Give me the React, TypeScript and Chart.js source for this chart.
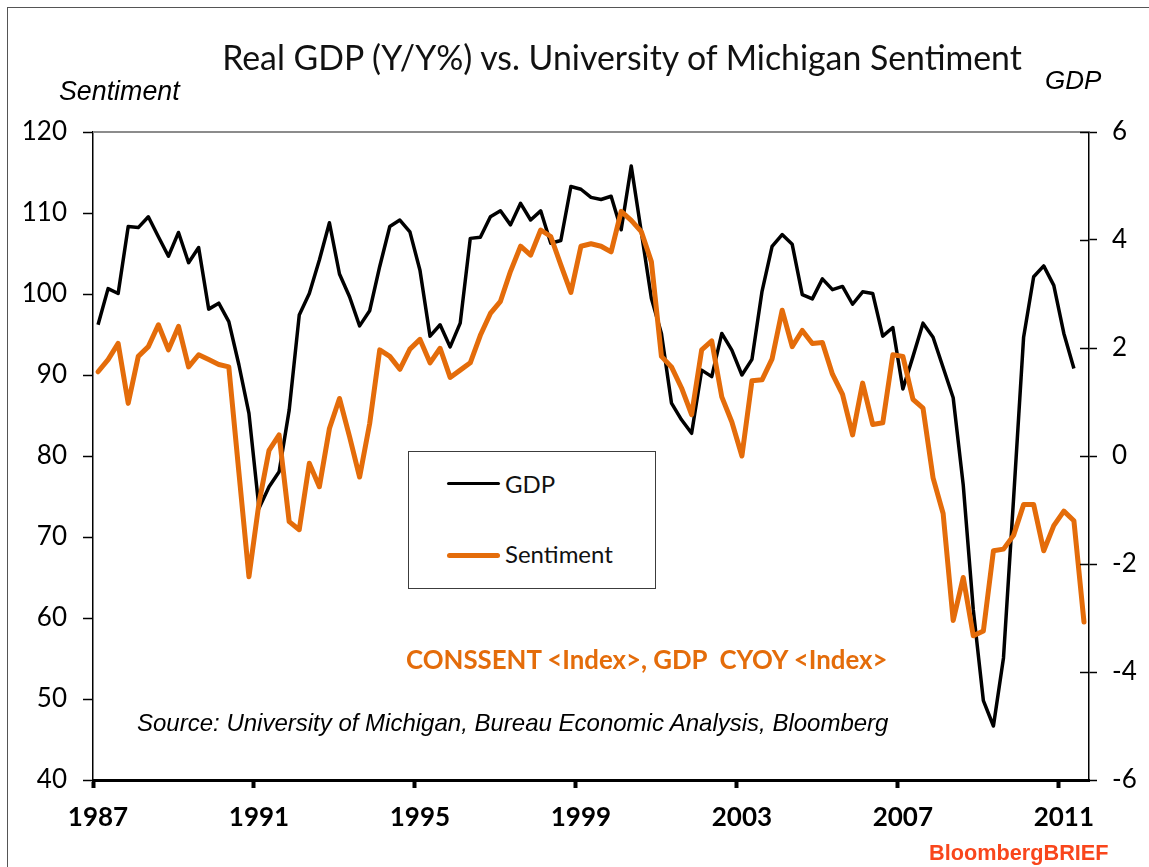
import React, { useEffect, useRef } from "react";
import { Chart, registerables } from "chart.js";

Chart.register(...registerables);

// ---- data ----
const START_YEAR = 1987;
const X_TICKS = [1987, 1991, 1995, 1999, 2003, 2007, 2011];
const LEFT_RANGE = [40, 120];
const RIGHT_RANGE = [-6, 6];

// Real GDP y/y % (quarterly, 1987Q1 - 2011Q2)
const GDP = [
  2.43, 3.10, 3.01, 4.25, 4.23, 4.43, 4.06, 3.70, 4.14, 3.58,
  3.86, 2.72, 2.83, 2.49, 1.69, 0.79, -0.97, -0.57, -0.29, 0.85,
  2.61, 3.01, 3.63, 4.32, 3.37, 2.95, 2.41, 2.69, 3.51, 4.25,
  4.37, 4.15, 3.44, 2.22, 2.43, 2.02, 2.46, 4.03, 4.05, 4.43,
  4.54, 4.28, 4.68, 4.37, 4.54, 3.94, 3.99, 4.99, 4.94, 4.79,
  4.75, 4.81, 4.19, 5.37, 4.15, 2.92, 2.27, 0.98, 0.67, 0.42,
  1.59, 1.47, 2.27, 1.96, 1.50, 1.79, 3.05, 3.88, 4.10, 3.92,
  2.99, 2.91, 3.28, 3.08, 3.14, 2.81, 3.04, 3.01, 2.22, 2.38,
  1.24, 1.84, 2.46, 2.20, 1.64, 1.08, -0.54, -2.85, -4.53, -5.0,
  -3.74, -0.8, 2.20, 3.32, 3.52, 3.16, 2.27, 1.62,
];

// University of Michigan consumer sentiment (quarterly, 1987Q1 - 2011Q3)
const SENTIMENT = [
  90.4, 91.9, 93.9, 86.5, 92.3, 93.5, 96.2, 93.1, 96.0, 91.0,
  92.5, 91.9, 91.3, 91.0, 78.0, 65.1, 74.2, 80.7, 82.6, 71.9,
  70.9, 79.1, 76.2, 83.4, 87.1, 82.4, 77.4, 84.0, 93.1, 92.3,
  90.7, 93.2, 94.4, 91.5, 93.3, 89.7, 90.6, 91.5, 94.9, 97.6,
  99.1, 102.8, 105.9, 104.8, 107.9, 107.1, 103.6, 100.2, 105.9, 106.2,
  105.9, 105.2, 110.2, 109.1, 107.7, 104.0, 92.3, 91.0, 88.4, 85.1,
  93.1, 94.2, 87.3, 84.2, 80.0, 89.3, 89.4, 92.0, 98.0, 93.5,
  95.5, 93.9, 94.0, 90.1, 87.6, 82.6, 89.0, 83.9, 84.1, 92.5,
  92.3, 87.0, 85.9, 77.3, 72.9, 59.7, 65.0, 57.8, 58.4, 68.3,
  68.5, 70.2, 74.0, 74.0, 68.3, 71.4, 73.2, 72.0, 59.5,
];

const ORANGE = "#E46C0A";
const W = 1149;
const H = 867;

// quarter index -> mid-quarter position on the year axis
const quarterX = (i: number) => START_YEAR + (i + 0.5) / 4;
const toPoints = (arr: number[]) => arr.map((v, i) => ({ x: quarterX(i), y: v }));

const framePlugin = {
  id: "frame",
  afterDraw(chart: any) {
    const { ctx, chartArea: a, scales } = chart;
    ctx.save();
    ctx.strokeStyle = "#8c8c8c";
    ctx.lineWidth = 2;
    ctx.beginPath();
    ctx.moveTo(a.left, a.top);
    ctx.lineTo(a.right, a.top);
    ctx.stroke();
    const y1 = scales.y1;
    ctx.strokeStyle = "#000";
    ctx.lineWidth = 1.5;
    y1.ticks.forEach((t: any) => {
      const py = Math.round(y1.getPixelForValue(t.value)) + 0.5;
      ctx.beginPath();
      ctx.moveTo(a.right - 9, py);
      ctx.lineTo(a.right, py);
      ctx.stroke();
    });
    ctx.restore();
  },
};

type TextProps = {
  x: number;
  base: number;
  size: number;
  family: string;
  asc: number;
  weight?: string | number;
  italic?: boolean;
  color?: string;
  center?: boolean;
  spacing?: number;
  children: React.ReactNode;
};

function Text(p: TextProps) {
  return (
    <div
      style={{
        position: "absolute",
        left: p.x,
        top: p.base - p.asc * p.size,
        transform: p.center ? "translateX(-50%)" : undefined,
        fontSize: p.size,
        lineHeight: `${p.size}px`,
        fontFamily: p.family,
        fontWeight: p.weight ?? "normal",
        fontStyle: p.italic ? "italic" : "normal",
        color: p.color ?? "#000",
        whiteSpace: "nowrap",
        letterSpacing: p.spacing ?? 0,
        zIndex: 2,
      }}
    >
      {p.children}
    </div>
  );
}

const LATO = "Lato, sans-serif";
const LATO_ASC = 0.887;
const ARIAL = "'Liberation Sans', Arial, sans-serif";
const ARIAL_ASC = 0.8465;

export default function App() {
  const ref = useRef<HTMLCanvasElement | null>(null);

  useEffect(() => {
    if (!ref.current) return;
    const chart = new Chart(ref.current, {
      type: "line",
      data: {
        datasets: [
          {
            label: "Sentiment",
            data: toPoints(SENTIMENT),
            borderColor: ORANGE,
            borderWidth: 5,
            pointRadius: 0,
            tension: 0,
            yAxisID: "y",
            borderJoinStyle: "round",
            borderCapStyle: "round",
          },
          {
            label: "GDP",
            data: toPoints(GDP),
            borderColor: "#000",
            borderWidth: 3.5,
            pointRadius: 0,
            tension: 0,
            yAxisID: "y1",
            borderJoinStyle: "round",
          },
        ],
      },
      options: {
        animation: false,
        responsive: false,
        maintainAspectRatio: false,
        devicePixelRatio: 1,
        layout: { padding: { top: 132, left: 0, right: 0, bottom: 0 } },
        plugins: {
          legend: { display: false },
          title: { display: false },
          tooltip: { enabled: false },
        },
        scales: {
          x: {
            type: "linear",
            min: START_YEAR,
            max: 2011.75,
            position: "bottom",
            afterBuildTicks: (s: any) => {
              s.ticks = X_TICKS.map((v) => ({ value: v }));
            },
            afterFit: (s: any) => {
              s.height = H - 780;
            },
            grid: {
              display: true,
              drawOnChartArea: false,
              drawTicks: true,
              tickLength: 8,
              tickWidth: 4,
              tickColor: "#000",
            },
            border: { display: true, color: "#000", width: 3 },
            ticks: {
              color: "#000",
              font: { family: "Lato", size: 26, weight: "bold" },
              padding: 14,
              labelOffset: 5,
              maxRotation: 0,
              autoSkip: false,
              callback: (v: any) => String(v),
            },
          },
          y: {
            type: "linear",
            position: "left",
            min: LEFT_RANGE[0],
            max: LEFT_RANGE[1],
            afterFit: (s: any) => {
              s.width = 93;
            },
            grid: {
              display: true,
              drawOnChartArea: false,
              drawTicks: true,
              tickLength: 10,
              tickWidth: 1.5,
              tickColor: "#000",
            },
            border: { display: true, color: "#000", width: 1.5 },
            ticks: {
              stepSize: 10,
              color: "#000",
              font: { family: "Lato", size: 26 },
              padding: 16,
            },
          },
          y1: {
            type: "linear",
            position: "right",
            min: RIGHT_RANGE[0],
            max: RIGHT_RANGE[1],
            afterFit: (s: any) => {
              s.width = W - 1089;
            },
            grid: {
              display: true,
              drawOnChartArea: false,
              drawTicks: true,
              tickLength: 8,
              tickWidth: 1.5,
              tickColor: "#000",
            },
            border: { display: true, color: "#000", width: 1.5 },
            ticks: {
              stepSize: 2,
              color: "#000",
              font: { family: "Lato", size: 26 },
              padding: 15,
            },
          },
        },
      },
      plugins: [framePlugin],
    } as any);
    return () => chart.destroy();
  }, []);

  return (
    <div
      style={{
        position: "absolute",
        left: 0,
        top: 0,
        width: W,
        height: H,
        overflow: "hidden",
        background: "#fff",
      }}
    >
      <div
        style={{
          position: "absolute",
          left: 7,
          top: 7,
          width: W,
          height: H,
          borderLeft: "1.5px solid #555",
          borderTop: "1.5px solid #555",
        }}
      />
      <canvas
        ref={ref}
        width={W}
        height={H}
        style={{ position: "absolute", left: 0, top: 0, zIndex: 1 }}
      />
      <Text x={622} base={71} size={33.8} family={LATO} asc={LATO_ASC} color="#111" center>
        Real GDP (Y/Y%) vs. University of Michigan Sentiment
      </Text>
      <Text x={59} base={101} size={26.8} family={ARIAL} asc={ARIAL_ASC} italic>
        Sentiment
      </Text>
      <Text x={1045} base={89} size={26} family={ARIAL} asc={ARIAL_ASC} italic>
        GDP
      </Text>
      <div
        style={{
          position: "absolute",
          left: 408,
          top: 451,
          width: 248,
          height: 138,
          border: "1.5px solid #3c3c3c",
          boxSizing: "border-box",
          background: "#fff",
          zIndex: 2,
        }}
      />
      <div
        style={{
          position: "absolute",
          left: 447,
          top: 481.5,
          width: 53,
          height: 3,
          background: "#000",
          borderRadius: 1.5,
          zIndex: 3,
        }}
      />
      <div
        style={{
          position: "absolute",
          left: 447,
          top: 552.5,
          width: 53,
          height: 5,
          background: ORANGE,
          borderRadius: 2.5,
          zIndex: 3,
        }}
      />
      <Text x={505} base={493} size={24} family={LATO} asc={LATO_ASC} color="#111">
        GDP
      </Text>
      <Text x={505} base={563} size={24} family={LATO} asc={LATO_ASC} color="#111">
        Sentiment
      </Text>
      <Text x={406} base={670} size={25.8} family={LATO} asc={LATO_ASC} weight="bold" color={ORANGE}>
        CONSSENT &lt;Index&gt;, GDP&nbsp; CYOY &lt;Index&gt;
      </Text>
      <Text x={137} base={731} size={24} family={ARIAL} asc={ARIAL_ASC} italic spacing={0}>
        Source: University of Michigan, Bureau Economic Analysis, Bloomberg
      </Text>
      <Text x={929} base={860} size={21.7} family={ARIAL} asc={ARIAL_ASC} weight="bold" color="#F9461C">
        BloombergBRIEF
      </Text>
    </div>
  );
}
